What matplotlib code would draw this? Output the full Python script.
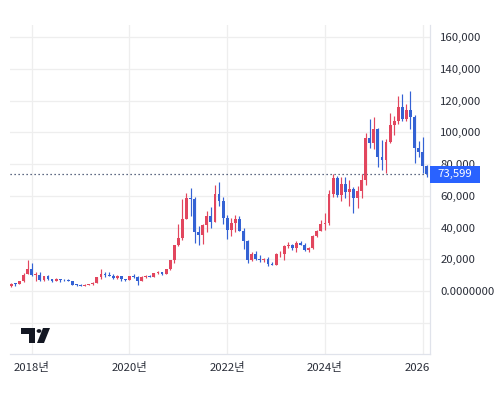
import matplotlib
matplotlib.use('Agg')
import matplotlib.pyplot as plt
import matplotlib.transforms as mtransforms
from matplotlib.patches import Rectangle, Polygon, Circle
import numpy as np
import pandas as pd

plt.rcParams['font.family'] = ['Noto Sans CJK KR', 'DejaVu Sans']

###  DATA  ###
# monthly candles, Aug 2017 .. Feb 2026
first_month = '2017-08-01'
opens = [2871, 4701, 4341, 6440, 10975,
         14112, 10237, 10385, 7003, 9251, 7500, 6411, 7769, 7044, 6619, 6318, 4025,
         3746, 3460, 3853, 4105, 5350, 8573, 10796, 10077, 9630, 8299, 9193, 7571,
         7194, 9346, 8599, 6437, 8672, 9463, 9145, 11322, 11679, 10796, 13781, 19633,
         28995, 33115, 45159, 58926, 57714, 37293, 35036, 41461, 47100, 43816, 61321, 56908,
         46311, 38481, 43194, 45554, 37713, 31792, 19820, 23336, 20050, 19432, 20496, 17168,
         16548, 23139, 23147, 28478, 29268, 27220, 30477, 29230, 25940, 26962, 34639, 37723,
         42265, 42582, 61130, 71280, 60636, 67491, 62678, 64619, 58969, 63327, 70215, 96405,
         93429, 102405, 84350, 82550, 94207, 104638, 107136, 115758, 108250, 114050, 109600, 90400,
         87500, 78600]
highs = [4736, 4975, 6470, 11300, 19783,
         17712, 11958, 11710, 9745, 9964, 7754, 8424, 7770, 7388, 7680, 6553, 4309,
         4109, 4211, 4296, 5642, 9074, 13797, 12273, 12274, 10898, 10370, 9505, 7743,
         9579, 10500, 9188, 9460, 10067, 10370, 11434, 12473, 12086, 14028, 19749, 29244,
         41946, 58330, 61683, 64863, 59519, 41295, 42316, 50482, 52920, 66930, 68789, 59041,
         47990, 45821, 48189, 47313, 39902, 31957, 24573, 25135, 22673, 20988, 21446, 18318,
         23919, 25250, 29190, 31000, 29820, 31431, 31804, 30176, 27483, 35198, 38415, 44729,
         48969, 63913, 73794, 72797, 71980, 71997, 70079, 65659, 66498, 73620, 99588, 108353,
         109588, 102750, 95000, 95760, 111980, 110530, 123218, 124457, 117900, 126200, 111200, 94600,
         97000, 79300]
lows = [2672, 2972, 4111, 5519, 10834,
        9402, 6048, 6600, 6526, 7090, 5826, 6111, 5880, 6140, 6208, 3562, 3156,
        3400, 3400, 3733, 4096, 5348, 7564, 9114, 9421, 7830, 7446, 6618, 6435,
        6914, 8470, 3858, 6202, 8117, 8976, 8977, 10989, 9916, 10417, 13219, 17619,
        28131, 32384, 45116, 47159, 30000, 28806, 29360, 37458, 39787, 43320, 53569, 42000,
        32933, 34459, 37260, 37697, 26350, 17708, 18966, 19600, 18153, 18200, 15480, 16300,
        16500, 21351, 19569, 26942, 25811, 24797, 28934, 25166, 24901, 26560, 34097, 37617,
        38555, 41884, 59005, 59191, 56552, 58402, 53485, 49000, 52550, 58946, 66835, 90500,
        89256, 78258, 76600, 74420, 93400, 98240, 105300, 107300, 107270, 102000, 80600, 84400,
        74600, 72000]
closes = [4703, 4338, 6468, 10233, 14157,
          10221, 10397, 6973, 9240, 7494, 6404, 7780, 7037, 6625, 6318, 4017, 3743,
          3457, 3854, 4105, 5351, 8575, 10817, 10085, 9630, 8293, 9199, 7569, 7193,
          9350, 8599, 6438, 8658, 9462, 9138, 11323, 11681, 10784, 13805, 19626, 28990,
          33141, 45137, 58919, 57750, 37332, 35040, 41626, 47167, 43790, 61318, 57005, 46306,
          38483, 43194, 45538, 37714, 31792, 19785, 23336, 20050, 19432, 20496, 17168, 16548,
          23139, 23147, 28478, 29268, 27220, 30477, 29230, 25940, 26962, 34639, 37723, 42265,
          42582, 61130, 71280, 60636, 67491, 62678, 64619, 58969, 63327, 70215, 96405, 93429,
          102405, 84350, 82550, 94207, 104638, 107136, 115758, 108250, 114050, 109600, 90400, 87500,
          78600, 73599]

year_ticks = [2018, 2020, 2022, 2024, 2026]
price_ticks = [0, 20000, 40000, 60000, 80000, 100000, 120000, 140000, 160000]

up_color = '#E2465E'
down_color = '#3462D4'
text_color = '#2a2e39'
grid_color = '#eeeeee'

###  PLOT  ###
dates = pd.date_range(first_month, periods=len(closes), freq='MS')
x = np.array([d.year + (d.month - 1) / 12.0 for d in dates])
o = np.array(opens, float)
h = np.array(highs, float)
l = np.array(lows, float)
c = np.array(closes, float)
cols = [up_color if cc >= oo else down_color for oo, cc in zip(o, c)]

fig = plt.figure(figsize=(5.0, 3.96), dpi=100)
ax = fig.add_axes([10/500, 42/396, 420/500, 329/396])

ax.vlines(x, l, h, colors=cols, linewidth=0.85, zorder=3)
body = np.maximum(np.abs(c - o), 500)
ax.bar(x, body, bottom=np.minimum(o, c), width=0.058, color=cols, linewidth=0, zorder=4)

ax.set_xlim(2017.556, 2026.149)
ax.set_ylim(-39735, 167770)

# grid
ax.set_xticks(year_ticks)
ax.set_yticks([-20000] + price_ticks)
ax.grid(True, color=grid_color, linewidth=0.9, zorder=0)
ax.set_axisbelow(True)

labels_y = []
for v in [-20000] + price_ticks:
    if v < 0:
        labels_y.append('')
    elif v == 0:
        labels_y.append('0.0000000')
    else:
        labels_y.append(f'{v:,}')
ax.yaxis.tick_right()
ax.set_yticklabels(labels_y, fontsize=8.2, color=text_color)
ax.tick_params(axis='y', length=0, pad=7.5)

ax.set_xticklabels([f'{yr}년' for yr in year_ticks], fontsize=8.2, color=text_color)
ax.tick_params(axis='x', length=0, pad=6)

# last year label is cut off at the price scale
last_tick = ax.xaxis.get_major_ticks()[-1]
last_tick.label1.set_clip_on(True)
last_tick.label1.set_clip_box(mtransforms.Bbox([[0, -10], [430, 1000]]))

for s in ['top', 'left']:
    ax.spines[s].set_visible(False)
for s in ['right', 'bottom']:
    ax.spines[s].set_color('#e0e3eb')
    ax.spines[s].set_linewidth(0.9)

# current price line and label
last = closes[-1]
ax.axhline(last, color='#2b3a5c', linewidth=0.9, linestyle=(0, (1, 2.2)), zorder=2)
blend = mtransforms.blended_transform_factory(ax.transAxes, ax.transData)
box_h = 17 / 329 * (167770 + 39735)
ax.add_patch(Rectangle((1.0, last - box_h / 2), 50 / 420, box_h, transform=blend,
                       facecolor='#2962FF', edgecolor='none', clip_on=False, zorder=6))
ax.text(1.0 + 25 / 420, last, f'{last:,}', transform=blend, ha='center', va='center',
        fontsize=8.2, color='white', zorder=7, clip_on=False)

# TradingView logo
def px(xp, yp):
    return (xp / 500, 1 - yp / 396)

logo_col = '#131722'
fig.patches.append(Polygon([px(21, 328), px(35, 328), px(35, 343), px(29, 343), px(29, 334), px(21, 334)],
                           closed=True, transform=fig.transFigure, facecolor=logo_col, edgecolor='none'))
fig.patches.append(Circle(px(39, 331), 2.4 / 500, transform=fig.transFigure,
                          facecolor=logo_col, edgecolor='none'))
fig.patches.append(Polygon([px(43, 328), px(50, 328), px(44, 343), px(37, 343)],
                           closed=True, transform=fig.transFigure, facecolor=logo_col, edgecolor='none'))

fig.savefig('out.png', dpi=100)
